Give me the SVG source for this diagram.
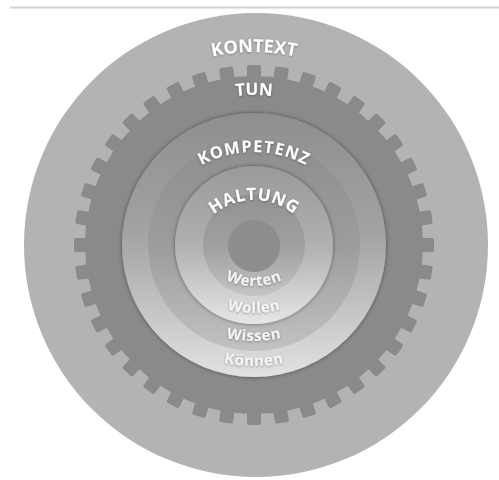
<svg xmlns="http://www.w3.org/2000/svg" xmlns:xlink="http://www.w3.org/1999/xlink" width="499" height="480" viewBox="0 0 499 480">
  <style>
    .cap { font-family: "Open Sans", "Liberation Sans", sans-serif; font-weight: 700; fill: #ffffff; filter: url(#ts); }
    .low { font-family: "Open Sans", "Liberation Sans", sans-serif; font-weight: 700; font-size: 15px; fill: #f4f4f4; filter: url(#ts); letter-spacing: 0.5px; }
  </style>
  <defs>
    <filter id="ts" x="-20%" y="-40%" width="140%" height="180%">
      <feDropShadow dx="0" dy="0.8" stdDeviation="0.8" flood-color="#000" flood-opacity="0.35"/>
    </filter>
    <filter id="ds" x="-10%" y="-10%" width="120%" height="120%">
      <feDropShadow dx="0" dy="0" stdDeviation="2.2" flood-color="#000" flood-opacity="0.45"/>
    </filter>
    <linearGradient id="gK" x1="0" y1="0" x2="0" y2="1">
      <stop offset="0" stop-color="#8f8f8f"/>
      <stop offset="0.45" stop-color="#a2a2a2"/>
      <stop offset="1" stop-color="#e2e2e2"/>
    </linearGradient>
    <linearGradient id="gW" x1="0" y1="0" x2="0" y2="1">
      <stop offset="0" stop-color="#8e8e8e"/>
      <stop offset="0.5" stop-color="#9c9c9c"/>
      <stop offset="1" stop-color="#c2c2c2"/>
    </linearGradient>
    <linearGradient id="gH" x1="0" y1="0" x2="0" y2="1">
      <stop offset="0" stop-color="#9a9a9a"/>
      <stop offset="0.5" stop-color="#b0b0b0"/>
      <stop offset="1" stop-color="#e6e6e6"/>
    </linearGradient>
    <linearGradient id="gR" x1="0" y1="0" x2="0" y2="1">
      <stop offset="0" stop-color="#929292"/>
      <stop offset="0.5" stop-color="#9f9f9f"/>
      <stop offset="1" stop-color="#c4c4c4"/>
    </linearGradient>
    <rect id="tooth" x="247" y="65" width="14" height="16" rx="2"/>
    <path id="pKontext" d="M 61,245 A 193 193 0 0 1 447,245"/>
    <path id="pTun" d="M 104,245 A 150 150 0 0 1 404,245"/>
    <path id="pKomp" d="M 144,262 A 110 110 0 0 1 364,262"/>
    <path id="pHalt" d="M 191,263 A 63 63 0 0 1 317,263"/>
    <path id="pWerten" d="M 187,219 A 67 67 0 0 0 321,219"/>
    <path id="pWollen" d="M 159,218 A 95 95 0 0 0 349,218"/>
    <path id="pWissen" d="M 129,216 A 125 125 0 0 0 379,216"/>
    <path id="pKoennen" d="M 104,216 A 150 150 0 0 0 404,216"/>
  </defs>

  <rect x="0" y="0" width="499" height="480" fill="#ffffff"/>
  <line x1="10" y1="7.5" x2="499" y2="7.5" stroke="#d2d2d2" stroke-width="2"/>

  <g id="kontext">
    <circle cx="256" cy="245" r="232" fill="#b3b3b3"/>
    <text class="cap" font-size="18"><textPath xlink:href="#pKontext" href="#pKontext" startOffset="50%" text-anchor="middle">KONTEXT</textPath></text>
  </g>

  <g id="tun" fill="#8a8a8a">
    <circle cx="254" cy="245" r="169"/>
    <use href="#tooth" xlink:href="#tooth" transform="rotate(0 254 245)"/>
    <use href="#tooth" xlink:href="#tooth" transform="rotate(9 254 245)"/>
    <use href="#tooth" xlink:href="#tooth" transform="rotate(18 254 245)"/>
    <use href="#tooth" xlink:href="#tooth" transform="rotate(27 254 245)"/>
    <use href="#tooth" xlink:href="#tooth" transform="rotate(36 254 245)"/>
    <use href="#tooth" xlink:href="#tooth" transform="rotate(45 254 245)"/>
    <use href="#tooth" xlink:href="#tooth" transform="rotate(54 254 245)"/>
    <use href="#tooth" xlink:href="#tooth" transform="rotate(63 254 245)"/>
    <use href="#tooth" xlink:href="#tooth" transform="rotate(72 254 245)"/>
    <use href="#tooth" xlink:href="#tooth" transform="rotate(81 254 245)"/>
    <use href="#tooth" xlink:href="#tooth" transform="rotate(90 254 245)"/>
    <use href="#tooth" xlink:href="#tooth" transform="rotate(99 254 245)"/>
    <use href="#tooth" xlink:href="#tooth" transform="rotate(108 254 245)"/>
    <use href="#tooth" xlink:href="#tooth" transform="rotate(117 254 245)"/>
    <use href="#tooth" xlink:href="#tooth" transform="rotate(126 254 245)"/>
    <use href="#tooth" xlink:href="#tooth" transform="rotate(135 254 245)"/>
    <use href="#tooth" xlink:href="#tooth" transform="rotate(144 254 245)"/>
    <use href="#tooth" xlink:href="#tooth" transform="rotate(153 254 245)"/>
    <use href="#tooth" xlink:href="#tooth" transform="rotate(162 254 245)"/>
    <use href="#tooth" xlink:href="#tooth" transform="rotate(171 254 245)"/>
    <use href="#tooth" xlink:href="#tooth" transform="rotate(180 254 245)"/>
    <use href="#tooth" xlink:href="#tooth" transform="rotate(189 254 245)"/>
    <use href="#tooth" xlink:href="#tooth" transform="rotate(198 254 245)"/>
    <use href="#tooth" xlink:href="#tooth" transform="rotate(207 254 245)"/>
    <use href="#tooth" xlink:href="#tooth" transform="rotate(216 254 245)"/>
    <use href="#tooth" xlink:href="#tooth" transform="rotate(225 254 245)"/>
    <use href="#tooth" xlink:href="#tooth" transform="rotate(234 254 245)"/>
    <use href="#tooth" xlink:href="#tooth" transform="rotate(243 254 245)"/>
    <use href="#tooth" xlink:href="#tooth" transform="rotate(252 254 245)"/>
    <use href="#tooth" xlink:href="#tooth" transform="rotate(261 254 245)"/>
    <use href="#tooth" xlink:href="#tooth" transform="rotate(270 254 245)"/>
    <use href="#tooth" xlink:href="#tooth" transform="rotate(279 254 245)"/>
    <use href="#tooth" xlink:href="#tooth" transform="rotate(288 254 245)"/>
    <use href="#tooth" xlink:href="#tooth" transform="rotate(297 254 245)"/>
    <use href="#tooth" xlink:href="#tooth" transform="rotate(306 254 245)"/>
    <use href="#tooth" xlink:href="#tooth" transform="rotate(315 254 245)"/>
    <use href="#tooth" xlink:href="#tooth" transform="rotate(324 254 245)"/>
    <use href="#tooth" xlink:href="#tooth" transform="rotate(333 254 245)"/>
    <use href="#tooth" xlink:href="#tooth" transform="rotate(342 254 245)"/>
    <use href="#tooth" xlink:href="#tooth" transform="rotate(351 254 245)"/>
    <text class="cap" font-size="17"><textPath xlink:href="#pTun" href="#pTun" startOffset="50%" text-anchor="middle">TUN</textPath></text>
  </g>

  <g id="kompetenz">
    <circle cx="254" cy="245" r="132" fill="url(#gK)" filter="url(#ds)"/>
    <circle cx="254" cy="245" r="106" fill="url(#gW)"/>
    <text class="cap" font-size="16.5" letter-spacing="1"><textPath xlink:href="#pKomp" href="#pKomp" startOffset="50%" text-anchor="middle">KOMPETENZ</textPath></text>
    <text class="low"><textPath xlink:href="#pKoennen" href="#pKoennen" startOffset="50%" text-anchor="middle">Können</textPath></text>
    <text class="low"><textPath xlink:href="#pWissen" href="#pWissen" startOffset="50%" text-anchor="middle">Wissen</textPath></text>
  </g>

  <g id="haltung">
    <circle cx="254" cy="245" r="79" fill="url(#gH)" filter="url(#ds)"/>
    <circle cx="254" cy="245" r="51" fill="url(#gR)"/>
    <circle cx="254" cy="246" r="26" fill="#8d8d8d"/>
    <text class="cap" font-size="17" letter-spacing="0.6"><textPath xlink:href="#pHalt" href="#pHalt" startOffset="50%" text-anchor="middle">HALTUNG</textPath></text>
    <text class="low"><textPath xlink:href="#pWollen" href="#pWollen" startOffset="50%" text-anchor="middle">Wollen</textPath></text>
    <text class="low"><textPath xlink:href="#pWerten" href="#pWerten" startOffset="50%" text-anchor="middle">Werten</textPath></text>
  </g>

  <g id="connectors"/>
</svg>
